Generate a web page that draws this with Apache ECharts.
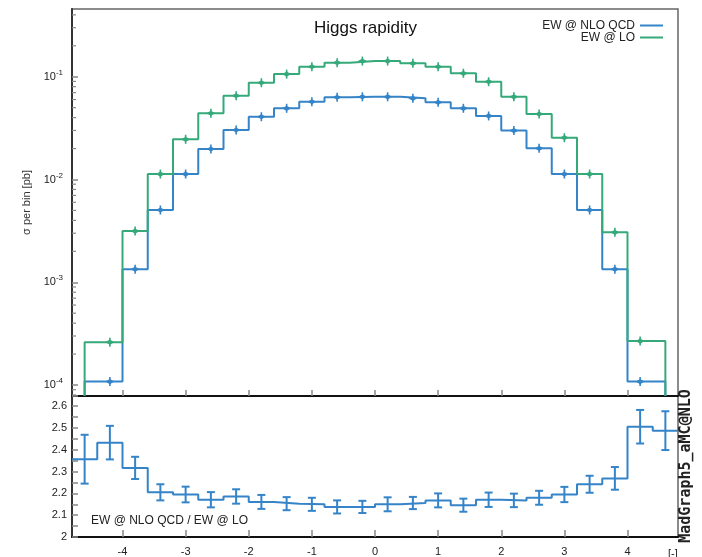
<!DOCTYPE html>
<html><head><meta charset="utf-8">
<script src="https://cdn.jsdelivr.net/npm/echarts@6/dist/echarts.min.js"></script>
<style>html,body{margin:0;padding:0;background:#fff}#c{width:702px;height:557px}</style>
</head><body><div id="c"></div>
<script>
// ---------------- data ----------------
const binCenters = [-4.6,-4.2,-3.8,-3.4,-3.0,-2.6,-2.2,-1.8,-1.4,-1.0,-0.6,-0.2,0.2,0.6,1.0,1.4,1.8,2.2,2.6,3.0,3.4,3.8,4.2,4.6];
const binWidth = 0.4;
// blue curve ("EW @ NLO QCD" in legend)
const nloValues = [null,1.08e-4,1.34e-3,5.05e-3,1.13e-2,1.98e-2,3.03e-2,4.08e-2,4.93e-2,5.71e-2,6.31e-2,6.38e-2,6.38e-2,6.16e-2,5.63e-2,4.93e-2,4.15e-2,2.99e-2,2.01e-2,1.13e-2,5.05e-3,1.34e-3,1.08e-4,null];
// green curve ("EW @ LO" in legend)
const loValues = [null,2.61e-4,3.15e-3,1.13e-2,2.46e-2,4.41e-2,6.53e-2,8.74e-2,0.106,0.125,0.137,0.142,0.142,0.135,0.125,0.108,0.0894,0.0638,0.0434,0.0255,0.0113,3.06e-3,2.68e-4,null];
const ratioValues = [2.357,2.433,2.317,2.205,2.195,2.171,2.186,2.161,2.153,2.150,2.138,2.138,2.150,2.156,2.168,2.146,2.171,2.168,2.180,2.195,2.242,2.269,2.506,2.488];
const ratioErrors = [0.112,0.077,0.051,0.037,0.036,0.035,0.033,0.032,0.030,0.030,0.030,0.028,0.032,0.028,0.032,0.030,0.033,0.031,0.032,0.035,0.039,0.052,0.077,0.089];
const xTickValues = [-4,-3,-2,-1,0,1,2,3,4];
const ratioTickLabels = [2,2.1,2.2,2.3,2.4,2.5,2.6];
const seriesNames = ['EW @ NLO QCD','EW @ LO'];
const titleText = 'Higgs rapidity';
const yAxisTitle = 'σ per bin [pb]';
const ratioText = 'EW @ NLO QCD / EW @ LO';
const sideText = 'MadGraph5_aMC@NLO';
const xUnitText = '[-]';

// ---------------- ranges / style ----------------
const X_MIN = -4.8, X_MAX = 4.8;
const Y_MIN = 7.82e-5, Y_MAX = 0.456;
const R_MIN = 2, R_MAX = 2.647;
const BLUE = '#3584c8', GREEN = '#35a97a';
const FONT = 'Liberation Sans';

function buildHistSteps(centers, values, w, floor) {
  const pts = [];
  const n = centers.length;
  for (let i = 0; i < n; i++) {
    const v = values[i];
    if (v == null) continue;
    let left = centers[i] - w / 2, right = centers[i] + w / 2;
    if (i === 0 || values[i - 1] == null) {
      if (i > 0) left = centers[i - 1];
      pts.push([left, floor]);
    }
    pts.push([left, v]);
    if (i === n - 1 || values[i + 1] == null) {
      if (i < n - 1) right = centers[i + 1];
      pts.push([right, v]);
      pts.push([right, floor]);
    } else {
      pts.push([right, v]);
    }
  }
  return pts;
}
function buildRatioSteps(centers, values, w) {
  const pts = [];
  centers.forEach((c, i) => { pts.push([c - w / 2, values[i]]); pts.push([c + w / 2, values[i]]); });
  return pts;
}
function markerData(centers, values) {
  const d = [];
  centers.forEach((c, i) => { if (values[i] != null) d.push([c, values[i]]); });
  return d;
}
function markerRender(color) {
  return function (params, api) {
    const p = api.coord([api.value(0), api.value(1)]);
    return { type: 'group', children: [
      { type: 'line', shape: { x1: p[0], y1: p[1] - 4.5, x2: p[0], y2: p[1] + 4.5 }, style: { stroke: color, lineWidth: 1.6 } },
      { type: 'polygon', shape: { points: [[p[0] - 4.5, p[1]], [p[0], p[1] - 2.6], [p[0] + 4.5, p[1]], [p[0], p[1] + 2.6]] }, style: { fill: color } }
    ]};
  };
}
// minor log ticks (2..9 x 10^n) inside the axis range
const minorLogTicks = [];
for (let e = -5; e <= 0; e++) for (let k = 2; k <= 9; k++) {
  const v = k * Math.pow(10, e);
  if (v > Y_MIN && v < Y_MAX) minorLogTicks.push([X_MIN, v]);
}
const errData = binCenters.map((c, i) => [c, ratioValues[i] - ratioErrors[i], ratioValues[i] + ratioErrors[i]]);

const chart = echarts.init(document.getElementById('c'), null, { renderer: 'canvas' });
const tickStyle = { color: '#888', width: 1.5 };
chart.setOption({
  animation: false,
  backgroundColor: '#fff',
  title: { text: titleText, left: 314, top: 20, padding: 0,
    textStyle: { fontSize: 17, fontWeight: 'normal', color: '#111', fontFamily: FONT } },
  legend: { data: seriesNames, orient: 'vertical', right: 39, top: 19.5, padding: 0, itemGap: 0,
    align: 'right', itemWidth: 23, itemHeight: 2, icon: 'rect', selectedMode: false,
    textStyle: { fontSize: 12, lineHeight: 11, color: '#222', fontFamily: FONT } },
  grid: [
    { left: 72, top: 9, width: 606, height: 387, show: true, borderColor: '#666', borderWidth: 1.5, backgroundColor: '#fff' },
    { left: 72, top: 396, width: 606, height: 145, show: true, borderColor: '#666', borderWidth: 1.5, backgroundColor: '#fff' }
  ],
  xAxis: [
    { type: 'value', gridIndex: 0, min: X_MIN, max: X_MAX, splitLine: { show: false },
      axisLine: { onZero: false, lineStyle: { color: '#111', width: 2 } },
      axisTick: { inside: true, length: 6, lineStyle: tickStyle, customValues: xTickValues },
      axisLabel: { show: false } },
    { type: 'value', gridIndex: 1, min: X_MIN, max: X_MAX, splitLine: { show: false },
      axisLine: { onZero: false, lineStyle: { color: '#111', width: 2 } },
      axisTick: { inside: true, length: 7, lineStyle: tickStyle, customValues: xTickValues },
      axisLabel: { customValues: xTickValues, margin: 9, fontSize: 11, color: '#222', fontFamily: FONT } }
  ],
  yAxis: [
    { type: 'log', logBase: 10, gridIndex: 0, min: Y_MIN, max: Y_MAX, splitLine: { show: false },
      name: yAxisTitle, nameLocation: 'middle', nameRotate: 90, nameGap: 37,
      nameTextStyle: { fontSize: 11, color: '#333', fontFamily: FONT },
      axisLine: { show: true, onZero: false, lineStyle: { color: '#333', width: 2 } },
      axisTick: { inside: true, length: 6, lineStyle: tickStyle },
      axisLabel: { margin: 9, showMinLabel: false, showMaxLabel: false,
        formatter: v => '{b|10}{s|' + Math.round(Math.log10(v)) + '}',
        rich: { b: { fontSize: 11, lineHeight: 16, color: '#222', fontFamily: FONT },
                s: { fontSize: 8, lineHeight: 8, verticalAlign: 'top', color: '#222', fontFamily: FONT } } } },
    { type: 'value', gridIndex: 1, min: R_MIN, max: R_MAX, interval: 0.05, splitLine: { show: false },
      axisLine: { show: true, onZero: false, lineStyle: { color: '#333', width: 2 } },
      axisTick: { inside: true, length: 6, lineStyle: tickStyle },
      axisLabel: { customValues: ratioTickLabels, margin: 5, fontSize: 11, color: '#222', fontFamily: FONT,
        formatter: v => (Math.abs(v - Math.round(v)) < 1e-9 ? String(Math.round(v)) : v.toFixed(1)) } }
  ],
  series: [
    { type: 'line', name: seriesNames[0], xAxisIndex: 0, yAxisIndex: 0, color: BLUE,
      data: buildHistSteps(binCenters, nloValues, binWidth, Y_MIN), symbol: 'none',
      lineStyle: { color: BLUE, width: 2 }, z: 3 },
    { type: 'line', name: seriesNames[1], xAxisIndex: 0, yAxisIndex: 0, color: GREEN,
      data: buildHistSteps(binCenters, loValues, binWidth, Y_MIN), symbol: 'none',
      lineStyle: { color: GREEN, width: 2 }, z: 3 },
    { type: 'custom', name: 'nloMarks', xAxisIndex: 0, yAxisIndex: 0, coordinateSystem: 'cartesian2d',
      data: markerData(binCenters, nloValues), renderItem: markerRender(BLUE), z: 4 },
    { type: 'custom', name: 'loMarks', xAxisIndex: 0, yAxisIndex: 0, coordinateSystem: 'cartesian2d',
      data: markerData(binCenters, loValues), renderItem: markerRender(GREEN), z: 4 },
    { type: 'custom', name: 'minorTicks', xAxisIndex: 0, yAxisIndex: 0, coordinateSystem: 'cartesian2d',
      data: minorLogTicks, z: 5,
      renderItem: (params, api) => {
        const p = api.coord([api.value(0), api.value(1)]);
        return { type: 'line', shape: { x1: p[0], y1: p[1], x2: p[0] + 4, y2: p[1] }, style: { stroke: '#888', lineWidth: 1.2 } };
      } },
    { type: 'line', name: 'ratio', xAxisIndex: 1, yAxisIndex: 1, color: BLUE,
      data: buildRatioSteps(binCenters, ratioValues, binWidth), symbol: 'none',
      lineStyle: { color: BLUE, width: 2 }, z: 3 },
    { type: 'custom', name: 'ratioErr', xAxisIndex: 1, yAxisIndex: 1, coordinateSystem: 'cartesian2d',
      data: errData, z: 4,
      renderItem: (params, api) => {
        const lo = api.coord([api.value(0), api.value(1)]);
        const hi = api.coord([api.value(0), api.value(2)]);
        const st = { stroke: BLUE, lineWidth: 2 };
        return { type: 'group', children: [
          { type: 'line', shape: { x1: lo[0], y1: lo[1], x2: hi[0], y2: hi[1] }, style: st },
          { type: 'line', shape: { x1: lo[0] - 4, y1: lo[1], x2: lo[0] + 4, y2: lo[1] }, style: st },
          { type: 'line', shape: { x1: hi[0] - 4, y1: hi[1], x2: hi[0] + 4, y2: hi[1] }, style: st }
        ]};
      } }
  ],
  graphic: [
    { type: 'text', left: 91, top: 515, style: { text: ratioText, font: '12px "Liberation Sans"', fill: '#222' } },
    { type: 'text', x: 686, y: 466, rotation: Math.PI / 2,
      style: { text: sideText, font: 'bold 15px "DejaVu Sans Mono"', fill: '#222', align: 'center', verticalAlign: 'middle' } },
    { type: 'text', left: 668, top: 548, style: { text: xUnitText, font: '11px "Liberation Sans"', fill: '#222' } }
  ]
});
</script></body></html>
